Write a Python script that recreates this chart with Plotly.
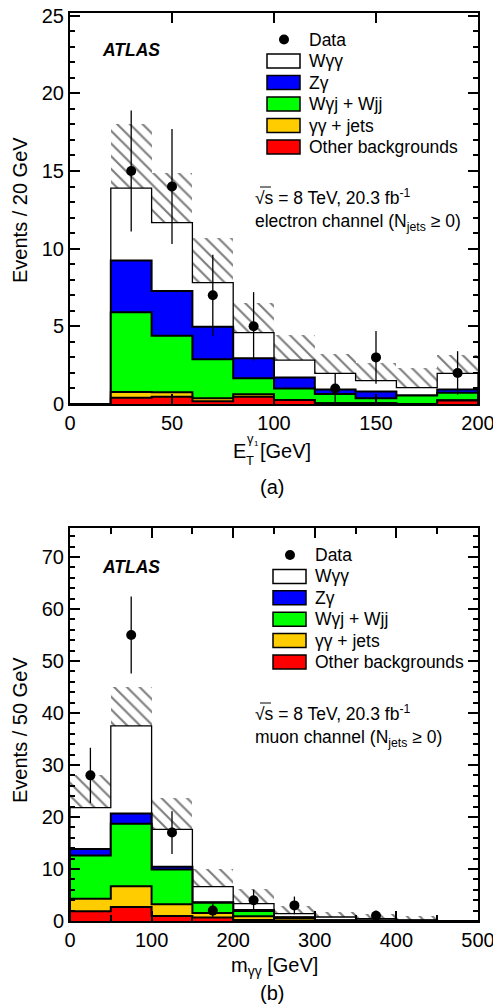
import numpy as np
import plotly.graph_objects as go

W, H = 493, 1007
FONT = "Liberation Sans, Arial, Helvetica, sans-serif"

# ---------------- Panel (a): electron channel, leading photon E_T ----------------
et_edges = [0, 20, 40, 60, 80, 100, 120, 140, 160, 180, 200]
et_other = [0, 0.40, 0.47, 0.17, 0.47, 0.25, 0.05, 0.05, 0.00, 0.22]
et_yyjets = [0, 0.38, 0.28, 0.20, 0.15, 0.00, 0.00, 0.00, 0.00, 0.02]
et_wyj = [0, 5.12, 3.65, 2.51, 1.03, 0.75, 0.59, 0.32, 0.54, 0.49]
et_zy = [0, 3.33, 2.88, 2.10, 1.29, 0.70, 0.30, 0.43, 0.00, 0.21]
et_wyy = [0, 4.67, 4.39, 2.83, 1.66, 1.13, 1.03, 0.70, 0.51, 1.03]
et_unc = [0, 4.10, 3.20, 2.86, 1.90, 1.60, 1.25, 1.15, 1.25, 1.18]
et_data_x = [30, 50, 70, 90, 130, 150, 190]
et_data_y = [15, 14, 7, 5, 1, 3, 2]
et_data_err = [3.9, 3.7, 2.6, 2.2, 1.0, 1.7, 1.4]

# ---------------- Panel (b): muon channel, diphoton mass ----------------
m_edges = [0, 50, 100, 150, 200, 250, 300, 350, 400, 450, 500]
m_other = [1.87, 2.70, 0.97, 0.65, 0.20, 0.10, 0.00, 0.00, 0.00, 0]
m_yyjets = [2.43, 3.97, 2.23, 0.90, 0.70, 0.50, 0.05, 0.05, 0.00, 0]
m_wyj = [8.27, 12.03, 6.70, 1.95, 1.00, 0.05, 0.05, 0.05, 0.05, 0]
m_zy = [1.28, 1.95, 0.55, 0.10, 0.20, 0.05, 0.05, 0.00, 0.00, 0]
m_wyy = [7.95, 16.85, 7.15, 3.00, 1.25, 0.72, 0.62, 0.35, 0.15, 0]
m_unc = [6.2, 7.4, 5.9, 3.4, 2.7, 1.4, 0.9, 0.75, 0.7, 0]
m_data_x = [25, 75, 125, 175, 225, 275, 375]
m_data_y = [28, 55, 17, 2, 4, 3, 1]
m_data_err = [5.3, 7.4, 4.1, 1.4, 2.0, 1.7, 1.0]

legend_labels = ["Data", "Wγγ", "Zγ", "Wγj + Wjj", "γγ + jets", "Other backgrounds"]
stack_colors = ["white", "#0000FF", "#00FF00", "#FFCC00", "#FF0000"]

def px(x):
    return x / W

def py(y):
    return 1 - y / H

fig = go.Figure()


def add_panel(edges, comps, unc, dx, dy, derr, xa, ya):
    edges = np.array(edges, float)
    centers = 0.5 * (edges[:-1] + edges[1:])
    widths = edges[1:] - edges[:-1]
    # comps ordered bottom -> top: other, yyjets, wyj, zy, wyy
    cum = np.cumsum(np.array(comps, float), axis=0)
    tops = cum[::-1]  # total first
    xs = np.concatenate([[edges[0]], edges[:-1], [edges[-1]]])
    for i, t in enumerate(tops):
        ys = np.concatenate([[0], t, [0]])
        fig.add_trace(go.Scatter(
            x=xs, y=ys, mode="lines", line=dict(shape="hv", color="black",
                                                  width=1.3 if i == 0 else 2),
            fill="tozeroy", fillcolor=stack_colors[i], xaxis=xa, yaxis=ya,
            showlegend=False, hoverinfo="skip"))
    total = tops[0]
    unc = np.array(unc, float)
    lo = np.clip(total - unc, 0, None)
    hi = total + unc
    fig.add_trace(go.Bar(
        x=centers, y=hi - lo, base=lo, width=widths,
        marker=dict(color="rgba(0,0,0,0)", line=dict(width=0),
                    pattern=dict(shape="\\", fgcolor="black", size=9, solidity=0.24)),
        xaxis=xa, yaxis=ya, showlegend=False, hoverinfo="skip"))
    fig.add_trace(go.Scatter(
        x=dx, y=dy, mode="markers",
        marker=dict(color="black", size=10),
        error_y=dict(type="data", array=derr, color="black", thickness=1.3, width=0),
        xaxis=xa, yaxis=ya, showlegend=False))


add_panel(et_edges, [et_other, et_yyjets, et_wyj, et_zy, et_wyy], et_unc,
          et_data_x, et_data_y, et_data_err, "x", "y")
add_panel(m_edges, [m_other, m_yyjets, m_wyj, m_zy, m_wyy], m_unc,
          m_data_x, m_data_y, m_data_err, "x2", "y2")

axis_common = dict(showline=True, linecolor="black", linewidth=2, mirror="allticks",
                   ticks="inside", ticklen=10, tickwidth=1.5, tickcolor="black",
                   showgrid=False, zeroline=False, ticklabeloverflow="allow",
                   automargin=False,
                   tickfont=dict(family=FONT, size=20, color="black"))
xdom = [px(70), px(478)]
fig.update_layout(
    width=W, height=H, margin=dict(l=0, r=0, t=0, b=0, autoexpand=False),
    paper_bgcolor="white", plot_bgcolor="white",
    barmode="overlay", bargap=0, showlegend=False,
    font=dict(family=FONT, color="black"),
    xaxis=dict(domain=xdom, range=[0, 200.001], tickvals=[0, 50, 100, 150, 200],
               anchor="y", **axis_common),
    yaxis=dict(domain=[py(404), py(13.3)], range=[0, 25.15], dtick=5, anchor="x",
               minor=dict(dtick=1, ticks="inside", ticklen=5, tickcolor="black"),
               **axis_common),
    xaxis2=dict(domain=xdom, range=[0, 500.001], tickvals=[0, 100, 200, 300, 400, 500],
                anchor="y2",
                minor=dict(dtick=50, ticks="inside", ticklen=6, tickcolor="black"),
                **axis_common),
    yaxis2=dict(domain=[py(921), py(528.3)], range=[0, 75.5], dtick=10, anchor="x2",
                minor=dict(dtick=2, ticks="inside", ticklen=5, tickcolor="black"),
                **axis_common),
)

shapes = []
annotations = []


def text(x, y, s, size=17.5, xanchor="left", angle=0):
    annotations.append(dict(x=px(x), y=py(y), xref="paper", yref="paper", text=s,
                            showarrow=False, xanchor=xanchor, yanchor="middle",
                            textangle=angle, font=dict(family=FONT, size=size, color="black")))


def legend(x_box, y_first, step):
    # data marker row
    r = 5
    xm = x_box + 17
    shapes.append(dict(type="circle", xref="paper", yref="paper",
                       x0=px(xm - r), x1=px(xm + r), y0=py(y_first + r), y1=py(y_first - r),
                       fillcolor="black", line=dict(color="black", width=0)))
    text(x_box + 40, y_first, legend_labels[0])
    for i, (lab, col) in enumerate(zip(legend_labels[1:], stack_colors)):
        yc = y_first + step * (i + 1)
        shapes.append(dict(type="rect", xref="paper", yref="paper",
                           x0=px(x_box), x1=px(x_box + 33), y0=py(yc + 7), y1=py(yc - 7),
                           fillcolor=col, line=dict(color="black", width=1.5)))
        text(x_box + 40, yc, lab)


def energy_text(x, y, channel):
    text(x, y, "√s = 8 TeV, 20.3 fb<sup>-1</sup>")
    shapes.append(dict(type="line", xref="paper", yref="paper",
                       x0=px(x + 7), x1=px(x + 18), y0=py(y - 10), y1=py(y - 10),
                       line=dict(color="black", width=1)))
    text(x, y + 25, channel + " channel (N<sub>jets</sub> ≥ 0)")


# Panel (a) decorations
text(100, 50, "<b><i>ATLAS</i></b>")
legend(267, 39.5, 21.5)
energy_text(253, 197, "electron")
text(20, 210, "Events / 20 GeV", size=20, xanchor="center", angle=-90)
text(231, 451, "E", size=20)
text(244, 461, "T", size=13)
text(245, 438, "γ", size=13)
text(252, 443, "1", size=8)
text(258, 451, "[GeV]", size=20)
text(272, 487, "(a)", size=20, xanchor="center")

# Panel (b) decorations
text(100, 567, "<b><i>ATLAS</i></b>")
legend(273, 555, 21.4)
energy_text(253, 713, "muon")
text(20, 730, "Events / 50 GeV", size=20, xanchor="center", angle=-90)
text(274, 966, "m<sub>γγ</sub> [GeV]", size=20, xanchor="center")
text(272, 993, "(b)", size=20, xanchor="center")

fig.update_layout(shapes=shapes, annotations=annotations)
fig.write_html("out.html")
